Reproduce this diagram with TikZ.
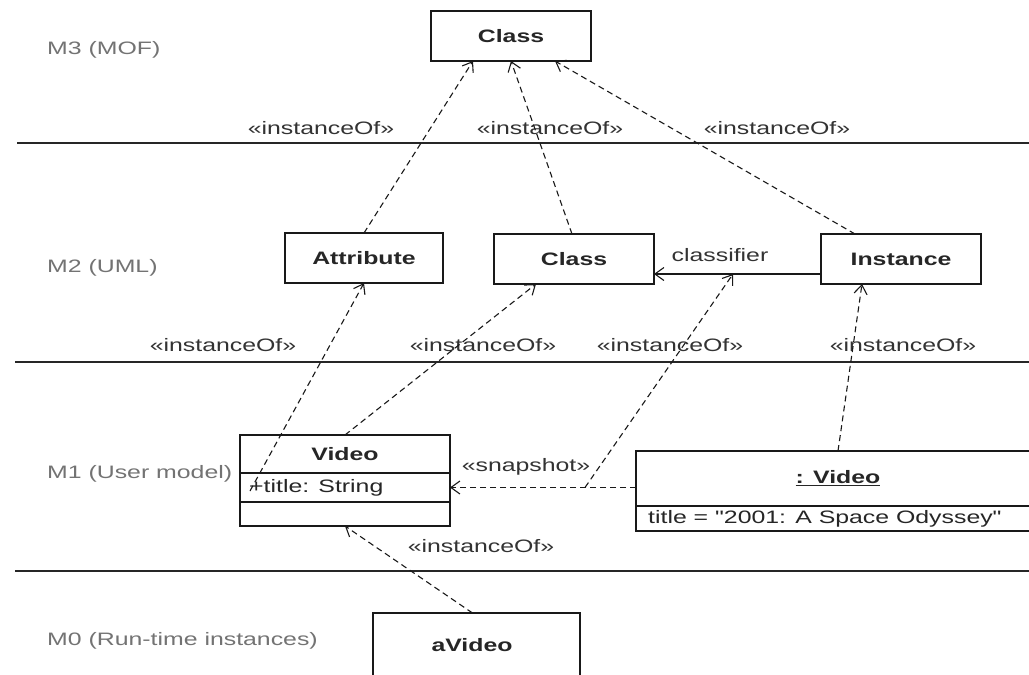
\documentclass[tikz,border=0pt]{standalone}
\usepackage{fontspec}
\setmainfont{Liberation Sans}
\usetikzlibrary{arrows.meta,calc}
\newcommand\wt[1]{\scalebox{1.38}[1]{#1}}
\begin{document}
\begin{tikzpicture}[x=1pt,y=-1pt,
  box/.style={draw=black!90, line width=1.5pt, rectangle, inner sep=0pt, outer sep=0pt,
    font=\fontsize{18}{21}\selectfont\bfseries, text=black!85},
  cell/.style={draw=black!90, line width=1.2pt, rectangle, inner sep=0pt, outer sep=0pt,
    font=\fontsize{18}{21}\selectfont\bfseries, text=black!85},
  lbl/.style={inner sep=0pt, font=\fontsize{18}{21}\selectfont, text=black!80},
  bold/.style={inner sep=0pt, font=\fontsize{18}{21}\selectfont\bfseries, text=black!85},
  level/.style={inner sep=0pt, anchor=west, font=\fontsize{18}{21}\selectfont, text=black!55},
  sep/.style={draw=black!85, line width=1.6pt},
  dep/.style={draw=black!90, line width=1.1pt, dash pattern=on 6pt off 4pt,
    -{Straight Barb[length=9pt,width=13pt,line width=1.1pt]}},
  assoc/.style={draw=black!90, line width=1.3pt,
    -{Straight Barb[length=9pt,width=13pt,line width=1.1pt]}}
]
\clip (0,0) rectangle (1029,675);
\fill[white] (0,0) rectangle (1029,675);

% level separators
\draw[sep] (17,143) -- (1029,143);
\draw[sep, line width=1.1pt] (15,362) -- (1029,362);
\draw[sep] (15,571) -- (1029,571);

% level labels
\node[level] (m3) at (47,50) {\wt{M3 (MOF)}};
\node[level] (m2) at (47,268) {\wt{M2 (UML)}};
\node[level] (m1) at (47,474) {\wt{M1 (User model)}};
\node[level] (m0) at (47,641) {\wt{M0 (Run-time instances)}};

% M3
\node[box, minimum width=160pt, minimum height=50pt] (c3) at (511,36) {\wt{Class}};

% M2
\node[box, minimum width=158pt, minimum height=50pt] (attr) at (364,258) {\wt{Attribute}};
\node[box, minimum width=160pt, minimum height=50pt] (c2) at (574,259) {\wt{Class}};
\node[box, minimum width=160pt, minimum height=50pt] (inst) at (901,259) {\wt{Instance}};

% M1 class Video
\node[cell, minimum width=210pt, minimum height=38pt] (vhead) at (345,454) {\wt{Video}};
\node[cell, minimum width=210pt, minimum height=29pt, anchor=north] (vattr) at (vhead.south) {};
\node[cell, minimum width=210pt, minimum height=24pt, anchor=north] (vops) at (vattr.south) {};
\node[lbl, anchor=west, text=black!85] (vtitle) at ([xshift=9pt]vattr.west) {\wt{+title: String}};

% M1 object :Video
\node[cell, minimum width=404pt, minimum height=55pt] (ohead) at (838,478.5) {\wt{\underline{: Video}}};
\node[cell, minimum width=404pt, minimum height=25pt, anchor=north] (oattr) at (ohead.south) {};
\node[lbl, anchor=west, text=black!85] (otitle) at ([xshift=12pt]oattr.west) {\addfontfeature{Ligatures=TeXOff}\wt{title = "2001: A Space Odyssey"}};

% M0
\node[box, minimum width=207pt, minimum height=87pt] (av) at (476.5,656.5) {};
\node[bold] (avtxt) at (472,645) {\wt{aVideo}};

% stereotype labels
\node[lbl] (io1) at (321,128) {\wt{«instanceOf»}};
\node[lbl] (io2) at (550,128) {\wt{«instanceOf»}};
\node[lbl] (io3) at (777,128) {\wt{«instanceOf»}};
\node[lbl] (io4) at (223,345) {\wt{«instanceOf»}};
\node[lbl] (io5) at (483,345) {\wt{«instanceOf»}};
\node[lbl] (io6) at (670,345) {\wt{«instanceOf»}};
\node[lbl] (io7) at (903,345) {\wt{«instanceOf»}};
\node[lbl] (io8) at (481,546) {\wt{«instanceOf»}};
\node[lbl] (snap) at (526,467) {\wt{«snapshot»}};
\node[lbl] (clsf) at (720,255) {\wt{classifier}};

% helper coordinates
\coordinate (ttl) at (250,491);
\coordinate (snapmid) at (585,487.5);
\coordinate (clsmid) at (733,274);

% connectors
\draw[dep] (attr.north) -- ([xshift=-38pt]c3.south);
\draw[dep] ([xshift=-2pt]c2.north) -- (c3.south);
\draw[dep] ([xshift=-46pt]inst.north) -- ([xshift=44pt]c3.south);
\draw[assoc] ([yshift=-15pt]inst.west) -- ([yshift=-15pt]c2.east);
\draw[dep] (ttl) -- (attr.south);
\draw[dep] (vhead.north) -- ([xshift=-38pt]c2.south);
\draw[dep] (ohead.west |- vattr.east) -- (vattr.east);
\draw[dep] (snapmid) -- (clsmid);
\draw[dep] (ohead.north) -- ([xshift=-39pt]inst.south);
\draw[dep] ([xshift=-4pt]av.north) -- (vops.south);
\end{tikzpicture}
\end{document}
